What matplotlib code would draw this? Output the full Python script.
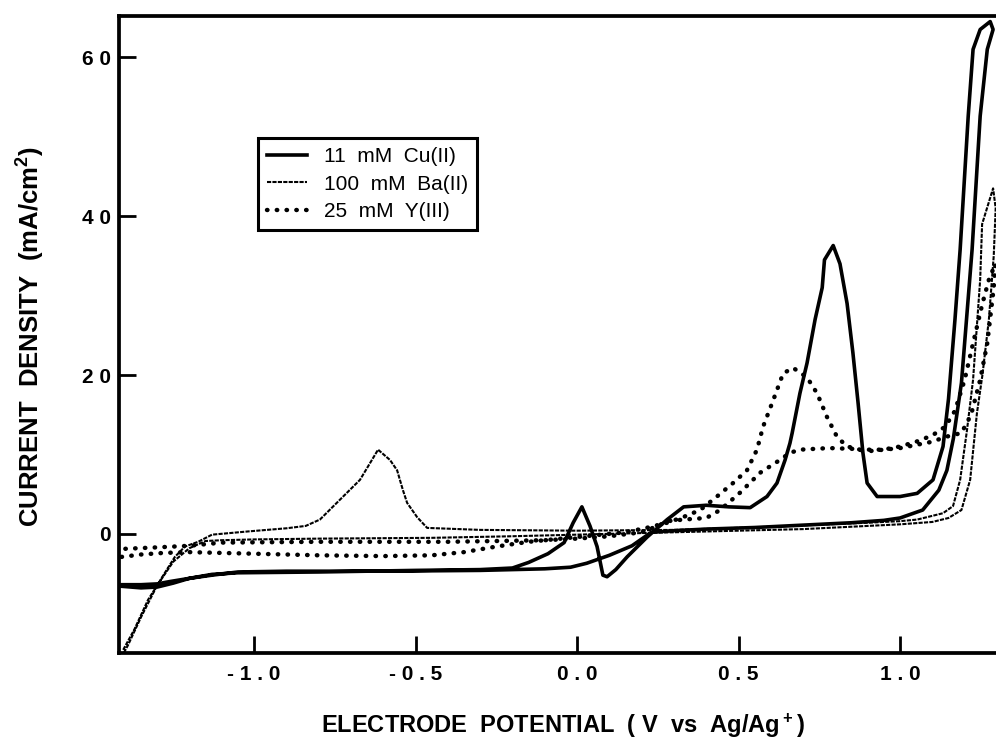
import matplotlib
matplotlib.use("Agg")
import matplotlib.pyplot as plt

# cyclic voltammograms
# 11 mM Cu(II)
cu_v = [-1.41, -1.35, -1.30, -1.25, -1.20, -1.13, -1.05, -0.80, -0.50, -0.30,
        -0.20, -0.15, -0.09, -0.04, -0.012, 0.015, 0.04, 0.062, 0.08, 0.093,
        0.12, 0.155, 0.217, 0.279, 0.33, 0.40, 0.47, 0.536, 0.588, 0.619,
        0.644, 0.659, 0.666, 0.69, 0.712, 0.737, 0.759, 0.766, 0.793, 0.814,
        0.836, 0.854, 0.87, 0.885, 0.898, 0.929, 1.0, 1.053, 1.102, 1.133,
        1.15, 1.17, 1.186, 1.211, 1.226, 1.248, 1.279, 1.288, 1.27, 1.248,
        1.223, 1.19, 1.165, 1.145, 1.12, 1.07, 1.0, 0.95, 0.85, 0.70,
        0.55, 0.40, 0.30, 0.23, 0.17, 0.10, 0.03, -0.02, -0.10, -0.30,
        -0.60, -0.90, -1.05, -1.13, -1.20, -1.26, -1.30, -1.35, -1.41]
cu_i = [-6.6, -6.8, -6.7, -6.2, -5.6, -5.1, -4.9, -4.8, -4.6, -4.5,
        -4.3, -3.6, -2.5, -1.1, 1.4, 3.4, 1.0, -1.6, -5.2, -5.4,
        -4.5, -2.9, -0.4, 1.8, 3.4, 3.6, 3.4, 3.3, 4.7, 6.4,
        9.3, 11.4, 12.7, 17.7, 21.5, 27.0, 31.0, 34.5, 36.3, 34.0,
        29.0, 22.8, 16.5, 10.2, 6.4, 4.7, 4.7, 5.1, 6.8, 11.0,
        17.0, 27.0, 35.8, 52.6, 61.0, 63.5, 64.5, 63.5, 61.0, 52.6,
        35.8, 19.0, 12.0, 8.0, 5.5, 3.0, 2.0, 1.7, 1.4, 1.1,
        0.8, 0.6, 0.4, 0.2, -1.5, -2.7, -3.7, -4.2, -4.4, -4.6,
        -4.7, -4.7, -4.8, -5.2, -5.6, -6.0, -6.3, -6.4, -6.4]

# 100 mM Ba(II)
ba_v = [-1.405, -1.37, -1.328, -1.30, -1.276, -1.245, -1.214, -1.173, -1.13, -1.02,
        -0.90, -0.84, -0.796, -0.734, -0.672, -0.641, -0.616, -0.579, -0.557, -0.539,
        -0.526, -0.495, -0.464, -0.30, 0.00, 0.30, 0.60, 0.90, 1.00, 1.053,
        1.133, 1.164, 1.186, 1.207, 1.226, 1.248, 1.254, 1.288, 1.296, 1.29,
        1.275, 1.255, 1.238, 1.217, 1.19, 1.15, 1.10, 1.00, 0.70, 0.40,
        0.10, -0.20, -0.45, -0.80, -1.00, -1.10, -1.15, -1.20, -1.25, -1.30,
        -1.35, -1.39, -1.41]
ba_i = [-14.6, -12.0, -8.3, -6.5, -4.9, -2.9, -1.6, -1.0, -0.1, 0.3,
        0.7, 1.0, 1.8, 4.3, 6.8, 8.9, 10.6, 9.3, 8.0, 5.5,
        3.9, 2.1, 0.75, 0.5, 0.4, 0.5, 0.9, 1.4, 1.6, 1.8,
        2.6, 3.5, 6.8, 13.0, 19.4, 32.0, 39.0, 43.5, 41.0, 35.0,
        27.0, 20.0, 15.2, 6.8, 3.0, 2.0, 1.5, 1.2, 0.6, 0.3,
        0.0, -0.3, -0.5, -0.6, -0.7, -0.8, -0.9, -1.8, -3.5, -6.5,
        -10.5, -14.0, -15.5]

# 25 mM Y(III)
y_v = [-1.41, -1.35, -1.28, -1.20, -1.10, -1.00, -0.80, -0.60, -0.45, -0.35,
       -0.25, -0.15, -0.05, 0.05, 0.15, 0.22, 0.279, 0.328, 0.381, 0.433,
       0.483, 0.526, 0.557, 0.576, 0.607, 0.638, 0.669, 0.712, 0.743, 0.774,
       0.805, 0.836, 0.876, 0.947, 1.00, 1.05, 1.10, 1.14, 1.17, 1.20,
       1.226, 1.255, 1.275, 1.295, 1.29, 1.27, 1.248, 1.22, 1.19, 1.14,
       1.10, 1.00, 0.90, 0.854, 0.78, 0.69, 0.659, 0.628, 0.567, 0.505,
       0.443, 0.40, 0.33, 0.28, 0.25, 0.20, 0.10, 0.00, -0.10, -0.40,
       -0.80, -1.10, -1.20, -1.30, -1.41]
y_i = [-2.9, -2.6, -2.4, -2.3, -2.4, -2.5, -2.7, -2.8, -2.7, -2.3,
       -1.6, -1.0, -0.6, -0.2, 0.2, 0.8, 1.4, 2.1, 3.0, 4.7,
       6.4, 8.0, 10.6, 13.5, 16.8, 20.2, 20.9, 19.7, 17.7, 14.7,
       12.2, 11.0, 10.6, 10.6, 11.0, 11.6, 12.4, 13.5, 15.5, 19.4,
       24.0, 29.0, 32.0, 34.0, 31.0, 24.0, 19.4, 15.0, 12.7, 12.2,
       11.6, 10.8, 10.4, 10.7, 10.8, 10.6, 10.2, 9.3, 7.7, 5.2,
       3.0, 2.0, 1.8, 1.6, 1.0, 0.2, -0.3, -0.6, -0.8, -1.0,
       -1.0, -1.1, -1.5, -1.7, -1.9]

labels = ["11  mM  Cu(II)", "100  mM  Ba(II)", "25  mM  Y(III)"]
xticks = [-1.0, -0.5, 0.0, 0.5, 1.0]
xticklabels = ["- 1 . 0", "- 0 . 5", "0 . 0", "0 . 5", "1 . 0"]
yticks = [0, 20, 40, 60]
yticklabels = ["0", "2 0", "4 0", "6 0"]

plt.rcParams['font.family'] = ['Liberation Sans', 'DejaVu Sans']
plt.rcParams['mathtext.default'] = 'regular'

W, H = 996, 744
fig = plt.figure(figsize=(W / 100, H / 100), dpi=100)
ax = fig.add_axes([119 / W, 1 - 653 / H, 1 - 119 / W, (653 - 16) / H])

ax.plot(cu_v, cu_i, color='black', lw=2.6, solid_joinstyle='round', label=labels[0])
ax.plot(ba_v, ba_i, color='black', lw=1.5, linestyle=(0, (2.0, 0.6)), label=labels[1])
ax.plot(y_v, y_i, color='black', lw=3.2, linestyle=(0, (0.1, 2.1)),
        dash_capstyle='round', label=labels[2])

ax.set_xlim(-1.418, 1.297)
ax.set_ylim(-15, 65.2)

for side in ['left', 'bottom', 'top']:
    ax.spines[side].set_linewidth(2.7)
ax.spines['right'].set_visible(False)

ax.set_xticks(xticks)
ax.set_xticklabels(xticklabels, fontsize=15, fontweight='bold')
ax.set_yticks(yticks)
ax.set_yticklabels(yticklabels, fontsize=15, fontweight='bold')
ax.tick_params(direction='in', length=12, width=2.0)
ax.tick_params(axis='x', pad=9)
ax.tick_params(axis='y', pad=6)

fig.text(31 / W, 1 - 337 / H, "CURRENT  DENSITY  (mA/cm$^2$)", rotation=90,
         ha='center', va='center', fontsize=18.5, fontweight='bold')
fig.text(563 / W, 1 - 726 / H, "ELECTRODE  POTENTIAL  ( V  vs  Ag/Ag$^+$)",
         ha='center', va='center', fontsize=17, fontweight='bold')

leg = ax.legend(loc='upper left', bbox_to_anchor=(258 / W, 1 - 138 / H),
                bbox_transform=fig.transFigure, borderaxespad=0,
                fontsize=15, handlelength=1.9, handletextpad=0.8,
                labelspacing=0.4, borderpad=0.45, fancybox=False,
                framealpha=1, edgecolor='black')
leg.get_frame().set_linewidth(2.2)

fig.savefig("out.png", dpi=100)
